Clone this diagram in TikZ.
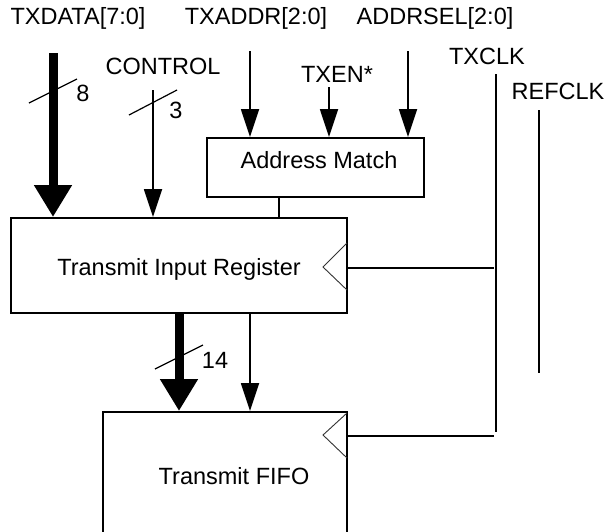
\documentclass[tikz,border=0pt]{standalone}
\usepackage{fontspec}
\setmainfont{Liberation Sans}
\usetikzlibrary{positioning}
\usetikzlibrary{arrows.meta}
\tikzset{
    mybox/.style = {rectangle, draw=black, line width=2pt, inner sep=0pt},
    mytext/.style = {inner sep=0pt, font=\fontsize{23.5}{28}\selectfont, text=black},
    edgen/.style = {line width=1.8pt, black},
    edgea/.style = {line width=1.8pt, black, -{Triangle[length=28pt,width=18pt]}},
    edgeb/.style = {line width=9pt, black, -{Triangle[length=32pt,width=36pt]}},
    edgeslash/.style = {line width=1.2pt, black},
    edgeclk/.style = {line width=0.9pt, black!80, line join=miter}
}

\begin{document}
\begin{tikzpicture}[x=1pt, y=-1pt]
\clip (0,0) rectangle (609,531);
% blocks
\node[mybox, minimum width=217pt, minimum height=59pt] (match) at (315.5,167.5) {};
\node[mytext] (matchtext) at (319,160) {Address Match};
\node[mybox, minimum width=336pt, minimum height=95pt] (reg) at (179,265.5) {};
\node[mytext] (regtext) at (179,269) {Transmit Input Register};
\node[mybox, minimum width=244pt, minimum height=150pt] (fifo) at (225,487) {};
\node[mytext] (fifotext) at (234,476) {Transmit FIFO};
% signal names
\node[mytext] (txdata) at (78,18) {TXDATA[7:0]};
\node[mytext] (txaddr) at (256,18) {TXADDR[2:0]};
\node[mytext] (addrsel) at (435,18) {ADDRSEL[2:0]};
\node[mytext] (control) at (163,66) {CONTROL};
\node[mytext] (txen) at (337,74) {TXEN*};
\node[mytext] (txclk) at (487,56) {TXCLK};
\node[mytext] (refclk) at (558,91) {REFCLK};
% line starts
\coordinate (dtop) at (53,53);
\coordinate (ctop) at (153,90);
\coordinate (atop) at (250,51);
\coordinate (etop) at (329,87);
\coordinate (stop) at (408,51);
\coordinate (ktop) at (496,74);
\coordinate (kbot) at (496,432);
\coordinate (rtop) at (539,110);
\coordinate (rbot) at (539,373);
\coordinate (bus) at (179,313);
\coordinate (ctl) at (250,313);
% inputs
\draw[edgeb] (dtop) -- (dtop |- reg.north);
\draw[edgea] (ctop) -- (ctop |- reg.north);
\draw[edgea] (atop) -- (atop |- match.north);
\draw[edgea] (etop) -- (etop |- match.north);
\draw[edgea] (stop) -- (stop |- match.north);
\draw[edgen] (match.south -| 279,0) -- (reg.north -| 279,0);
% register to fifo
\draw[edgeb] (bus) -- (bus |- fifo.north);
\draw[edgea] (ctl) -- (ctl |- fifo.north);
% bus widths
\draw[edgeslash] (29,103) -- (77,79);
\node[mytext] (w8) at (83,93) {8};
\draw[edgeslash] (129,115) -- (177,90);
\node[mytext] (w3) at (176,110) {3};
\draw[edgeslash] (155,369) -- (203,345);
\node[mytext] (w14) at (215,360) {14};
% clocks
\draw[edgen] (ktop) -- (kbot);
\draw[edgen] (reg.east |- 0,268) -- (494,268);
\draw[edgen] (fifo.east |- 0,436) -- (494,436);
\draw[edgen] (rtop) -- (rbot);
\draw[edgeclk] (347,243) -- (323,267) -- (347,290);
\draw[edgeclk] (347,413) -- (323,435) -- (347,458);
\end{tikzpicture}
\end{document}
